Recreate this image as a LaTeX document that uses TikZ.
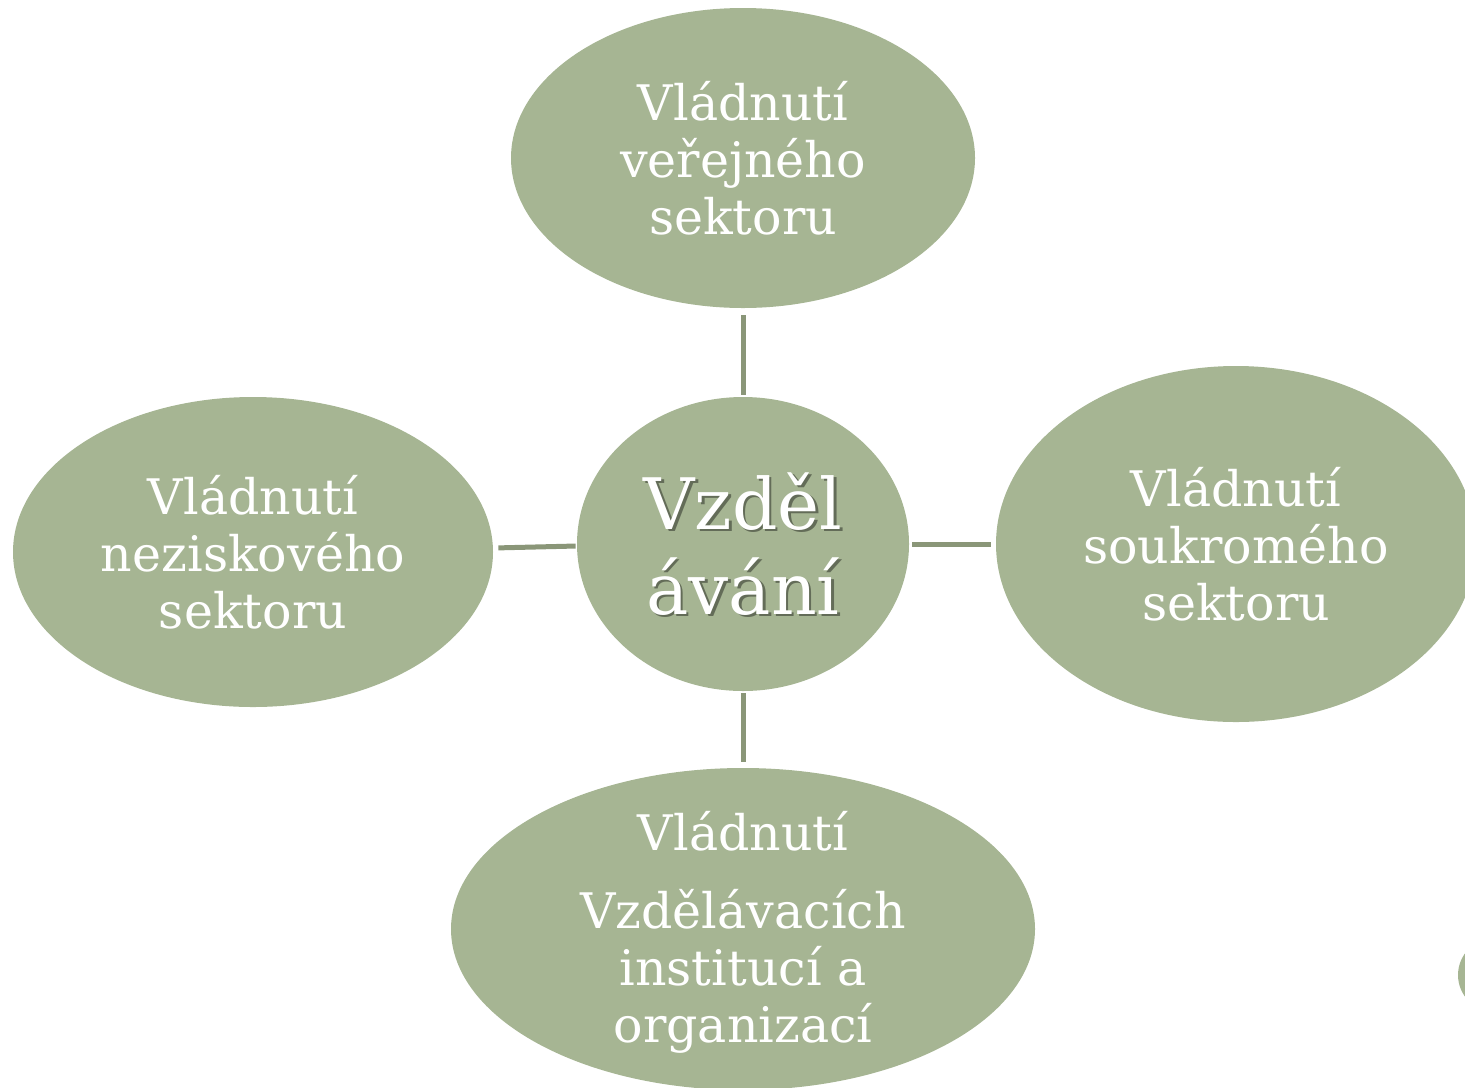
\documentclass[tikz,border=0pt]{standalone}
\usepackage{fontspec}
\setmainfont{DejaVu Serif}
\usetikzlibrary{shapes.geometric}
\definecolor{bubble}{RGB}{166,181,147}
\definecolor{linkc}{RGB}{138,150,120}
\begin{document}
\begin{tikzpicture}[x=0.5pt,y=-0.5pt,
  bub/.style={ellipse, fill=bubble, inner sep=0pt},
  lbl/.style={inner sep=0pt, text=white, align=center,
    font=\fontsize{24.5}{28.5}\selectfont},
  big/.style={align=center, inner sep=0pt, font=\fontsize{35.5}{42.5}\selectfont},
  conn/.style={draw=linkc, line width=2.5pt}]
\useasboundingbox (0,0) rectangle (1465,1087);
\clip (0,0) rectangle (1465,1087);
\node[bub, minimum width=232pt, minimum height=150pt] (top) at (743,158) {};
\node[lbl] (topt) at (top.center) {Vládnutí\\veřejného\\sektoru};
\node[bub, minimum width=166pt, minimum height=147pt] (c) at (743,544) {};
\node[big, text=black, opacity=0.4] (cs) at (745.5,546.5) {Vzděl\\ávání};
\node[big, text=white] (ct) at (c.center) {Vzděl\\ávání};
\node[bub, minimum width=240pt, minimum height=155pt] (left) at (253,552) {};
\node[lbl] (leftt) at (left.center) {Vládnutí\\neziskového\\sektoru};
\node[bub, minimum width=240pt, minimum height=178pt] (right) at (1236,544) {};
\node[lbl] (rightt) at (right.center) {Vládnutí\\soukromého\\sektoru};
\node[bub, minimum width=292pt, minimum height=161pt] (bottom) at (743,929) {};
\node[lbl] (bottomt) at (743,932) {Vládnutí\\[10.5pt]Vzdělávacích\\institucí a\\organizací};
\node[bub, minimum size=37pt] (small) at (1495,975) {};
\draw[conn, shorten <=3.5pt, shorten >=1pt] (top.south) -- (c.north);
\draw[conn, shorten <=2.5pt, shorten >=0.5pt] ([yshift=2pt]left.east) -- ([yshift=-1pt]c.west);
\draw[conn, shorten <=1.5pt, shorten >=2.5pt] (c.east) -- (right.west);
\draw[conn, shorten <=1pt, shorten >=3pt] (c.south) -- (bottom.north);
\end{tikzpicture}
\end{document}
